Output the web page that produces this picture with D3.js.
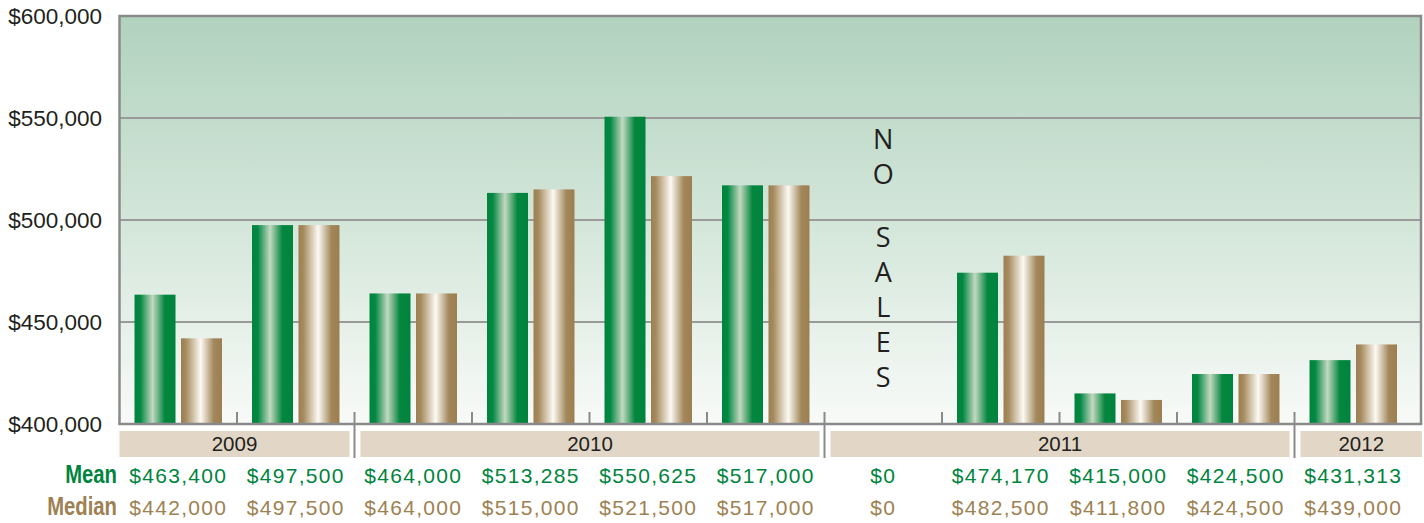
<!DOCTYPE html>
<html>
<head>
<meta charset="utf-8">
<script src="https://cdn.jsdelivr.net/npm/d3@7"></script>
<style>
  body { margin: 0; background: #fff; }
  svg { display: block; }
</style>
</head>
<body>
<div id="chart"></div>
<script>
// chart data
var periods = ["2009-1", "2009-2", "2010-1", "2010-2", "2010-3", "2010-4",
               "2011-1", "2011-2", "2011-3", "2011-4", "2012-1"];
var meanValues   = [463400, 497500, 464000, 513285, 550625, 517000, 0, 474170, 415000, 424500, 431313];
var medianValues = [442000, 497500, 464000, 515000, 521500, 517000, 0, 482500, 411800, 424500, 439000];
var years = ["2009", "2010", "2011", "2012"];
var yearSlots = [2, 4, 4, 1];
var yTicks = [400000, 450000, 500000, 550000, 600000];
var noSalesPeriod = "2011-1";
var noSalesLetters = ["N", "O", "", "S", "A", "L", "E", "S"];

(function() {
var width = 1424, height = 523,
    plotLeft = 119.5, plotRight = 1421, slotsRight = 1412, plotTop = 16, plotBottom = 424;

var green = "#00843D", tan = "#9E8152", ink = "#231f20", gridGray = "#9a9a9a", axisGray = "#8a8a8a";

var svg = d3.select("#chart").append("svg")
    .attr("width", width)
    .attr("height", height);

var dfs = svg.append("defs");

// plot background gradient
var bg = dfs.append("linearGradient").attr("id", "bgGrad")
    .attr("x1", 0).attr("y1", 0).attr("x2", 0).attr("y2", 1);
bg.append("stop").attr("offset", "0%").attr("stop-color", "#b1d2be");
bg.append("stop").attr("offset", "50%").attr("stop-color", "#d3e6d9");
bg.append("stop").attr("offset", "100%").attr("stop-color", "#f8faf8");

// cylinder-ish bar gradients
function barGradient(id, stops) {
    var g = dfs.append("linearGradient").attr("id", id)
        .attr("x1", 0).attr("y1", 0).attr("x2", 1).attr("y2", 0);
    stops.forEach(function(s) {
        g.append("stop").attr("offset", s[0]).attr("stop-color", s[1]);
    });
}
barGradient("meanGrad", [["0%", "#00843D"], ["14%", "#038843"], ["44%", "#c3d8c1"], ["74%", "#04863f"], ["100%", "#00843D"]]);
barGradient("medianGrad", [["0%", "#9c7f50"], ["12%", "#a68b5f"], ["48%", "#fcfaf4"], ["80%", "#a2875b"], ["100%", "#9c7f50"]]);

var x = d3.scaleBand().domain(periods).range([plotLeft, slotsRight]).padding(0);
var inner = d3.scaleBand().domain(["mean", "median"]).range([0, x.bandwidth()])
    .paddingInner(0.118).paddingOuter(0.323);
var y = d3.scaleLinear().domain([400000, 600000]).range([plotBottom, plotTop]);

var fmt = d3.format("$,");

svg.append("rect")
    .attr("x", plotLeft).attr("y", plotTop)
    .attr("width", plotRight - plotLeft).attr("height", plotBottom - plotTop)
    .attr("fill", "url(#bgGrad)");

// gridlines
svg.append("g").selectAll("line")
    .data(yTicks.slice(1, -1))
    .enter().append("line")
    .attr("x1", plotLeft).attr("x2", plotRight)
    .attr("y1", function(d) { return y(d); })
    .attr("y2", function(d) { return y(d); })
    .attr("stroke", gridGray).attr("stroke-width", 1.8);

// y labels
svg.append("g").selectAll("text")
    .data(yTicks)
    .enter().append("text")
    .attr("x", 102)
    .attr("y", function(d) { return y(d) + 8; })
    .attr("text-anchor", "end")
    .attr("font-family", "Liberation Sans, Arial, sans-serif")
    .attr("font-size", "22.5px")
    .attr("fill", ink)
    .text(function(d) { return fmt(d); });

// bars
var rows = periods.map(function(p, i) {
    return { period: p, mean: meanValues[i], median: medianValues[i] };
});

var groups = svg.append("g").selectAll("g")
    .data(rows)
    .enter().append("g")
    .attr("transform", function(d) { return "translate(" + x(d.period) + ",0)"; });

groups.selectAll("rect")
    .data(function(d) {
        return [{ key: "mean", value: d.mean }, { key: "median", value: d.median }]
            .filter(function(b) { return b.value > 400000; });
    })
    .enter().append("rect")
    .attr("x", function(d) { return inner(d.key); })
    .attr("width", inner.bandwidth())
    .attr("y", function(d) { return y(d.value); })
    .attr("height", function(d) { return y(400000) - y(d.value); })
    .attr("fill", function(d) { return d.key == "mean" ? "url(#meanGrad)" : "url(#medianGrad)"; });

// NO SALES
var nsX = x(noSalesPeriod) + x.bandwidth() / 2;
var nsY = 149;
var nsText = svg.append("g");
noSalesLetters.forEach(function(l) {
    if (l) {
        nsText.append("text")
            .attr("x", nsX).attr("y", nsY)
            .attr("text-anchor", "middle")
            .attr("font-family", "Open Sans, sans-serif")
            .attr("font-size", "27px")
            .attr("fill", ink)
            .text(l);
        nsY += 35;
    } else {
        nsY += 28;
    }
});

// plot border
svg.append("path")
    .attr("d", "M" + plotLeft + "," + plotBottom + "V" + plotTop + "H" + plotRight + "V" + plotBottom)
    .attr("fill", "none").attr("stroke", axisGray).attr("stroke-width", 2.5);

// year bands + separators
var boundaries = [0];
yearSlots.forEach(function(n, i) { boundaries.push(boundaries[i] + n); });
function bx(k) { return k >= periods.length ? plotRight : x(periods[k]); }
function bandStart(i) { return i == 0 ? plotLeft : bx(boundaries[i]) + 6; }
function bandEnd(i) { return i == years.length - 1 ? plotRight + 1 : bx(boundaries[i + 1]) - 5; }

svg.append("g").selectAll("rect")
    .data(years)
    .enter().append("rect")
    .attr("x", function(d, i) { return bandStart(i); })
    .attr("width", function(d, i) { return bandEnd(i) - bandStart(i); })
    .attr("y", 431).attr("height", 26)
    .attr("fill", "#e2d7c6");

svg.append("g").selectAll("text")
    .data(years)
    .enter().append("text")
    .attr("x", function(d, i) { return (bandStart(i) + bandEnd(i)) / 2; })
    .attr("y", 451)
    .attr("text-anchor", "middle")
    .attr("font-family", "Liberation Sans, Arial, sans-serif")
    .attr("font-size", "20.5px")
    .attr("fill", ink)
    .text(function(d) { return d; });

// tick marks
var ticks = svg.append("g");
for (var k = 1; k < periods.length; k++) {
    var isSep = boundaries.indexOf(k) >= 0;
    ticks.append("line")
        .attr("x1", bx(k)).attr("x2", bx(k))
        .attr("y1", 412).attr("y2", isSep ? 458 : plotBottom)
        .attr("stroke", axisGray).attr("stroke-width", 2);
}
svg.append("line")
    .attr("x1", plotLeft - 1.25).attr("x2", plotRight + 1.25)
    .attr("y1", plotBottom).attr("y2", plotBottom)
    .attr("stroke", axisGray).attr("stroke-width", 2.5);

// Mean / Median table
var tableRows = [
    { label: "Mean", values: meanValues, color: green, y: 483 },
    { label: "Median", values: medianValues, color: tan, y: 515 }
];

tableRows.forEach(function(r) {
    svg.append("text")
        .attr("transform", "translate(117," + r.y + ") scale(0.78,1)")
        .attr("text-anchor", "end")
        .attr("font-family", "Liberation Sans, Arial, sans-serif")
        .attr("font-weight", "bold")
        .attr("font-size", "26px")
        .attr("fill", r.color)
        .text(r.label);

    svg.append("g").selectAll("text")
        .data(r.values)
        .enter().append("text")
        .attr("x", function(d, i) { return x(periods[i]) + x.bandwidth() / 2; })
        .attr("y", r.y)
        .attr("text-anchor", "middle")
        .attr("font-family", "Liberation Sans, Arial, sans-serif")
        .attr("font-size", "21px")
        .attr("letter-spacing", "1.3px")
        .attr("fill", r.color)
        .text(function(d) { return fmt(d); });
});
})();
</script>
</body>
</html>
